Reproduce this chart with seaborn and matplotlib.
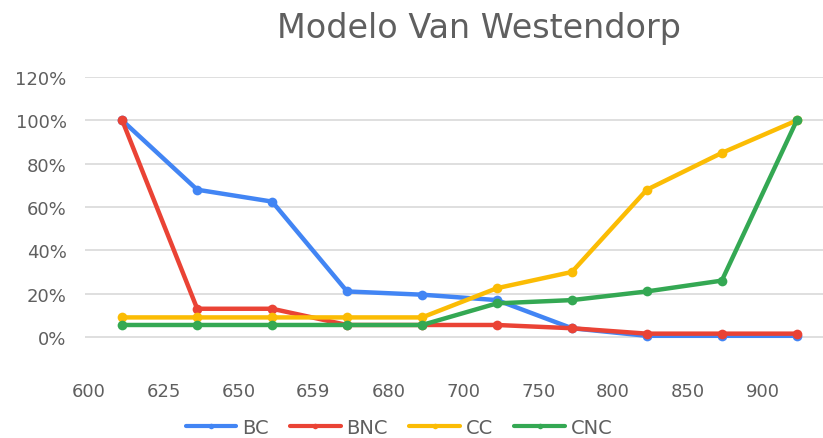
import numpy as np
import pandas as pd
import matplotlib
matplotlib.use("Agg")
import matplotlib.pyplot as plt
import seaborn as sns
from matplotlib.ticker import PercentFormatter

precios = ["600", "625", "650", "659", "680", "700", "750", "800", "850", "900"]
bc  = [1.00, 0.68, 0.625, 0.21, 0.195, 0.17, 0.04, 0.005, 0.005, 0.005]
bnc = [1.00, 0.13, 0.13, 0.055, 0.055, 0.055, 0.04, 0.015, 0.015, 0.015]
cc  = [0.09, 0.09, 0.09, 0.09, 0.09, 0.225, 0.30, 0.68, 0.85, 1.00]
cnc = [0.055, 0.055, 0.055, 0.055, 0.055, 0.155, 0.17, 0.21, 0.26, 1.00]
series = ["BC", "BNC", "CC", "CNC"]
colores = ["#4285F4", "#EA4335", "#FBBC04", "#34A853"]

sns.set_theme(style="white")
plt.rcParams['font.family'] = ['DejaVu Sans']

pos = np.arange(len(precios))
df = pd.DataFrame({"pos": pos, "BC": bc, "BNC": bnc, "CC": cc, "CNC": cnc})
long = df.melt(id_vars="pos", var_name="serie", value_name="valor")

fig = plt.figure(figsize=(8.23, 4.39), dpi=100)
ax = fig.add_axes([0.103, 0.181, 0.897, 0.641])

sns.lineplot(data=long, x="pos", y="valor", hue="serie", hue_order=series,
             palette=colores, marker="o", markersize=7, markeredgewidth=0,
             linewidth=3.2, ax=ax, legend=False)

ax.set_xlim(-0.5, 9.35)
ax.set_ylim(-0.1, 1.2)
ax.set_yticks(np.arange(0, 1.21, 0.2))
ax.yaxis.set_major_formatter(PercentFormatter(1.0, decimals=0))
ax.set_xticks(pos - 0.45)
ax.set_xticklabels(precios)
ax.grid(axis="y", color="#d9d9d9", linewidth=1.2)
ax.grid(axis="x", visible=False)
for s in ax.spines.values():
    s.set_visible(False)
ax.tick_params(axis="both", length=0, labelsize=13, labelcolor="#5f5f5f")
ax.tick_params(axis="x", pad=17)
ax.tick_params(axis="y", pad=13)
ax.set_xlabel("")
ax.set_ylabel("")

fig.text(0.582, 0.935, "Modelo Van Westendorp", ha="center", va="center",
         fontsize=24, color="#5f5f5f")

handles = [plt.Line2D([0], [0], color=c, linewidth=3, marker="o", markersize=4,
                      markeredgewidth=0) for c in colores]
fig.legend(handles, series, loc="center", bbox_to_anchor=(0.485, 0.025), ncol=4,
           frameon=False, fontsize=14, labelcolor="#5f5f5f", handlelength=2.6,
           columnspacing=1.1, handletextpad=0.3)

fig.savefig("out.png", dpi=100)
